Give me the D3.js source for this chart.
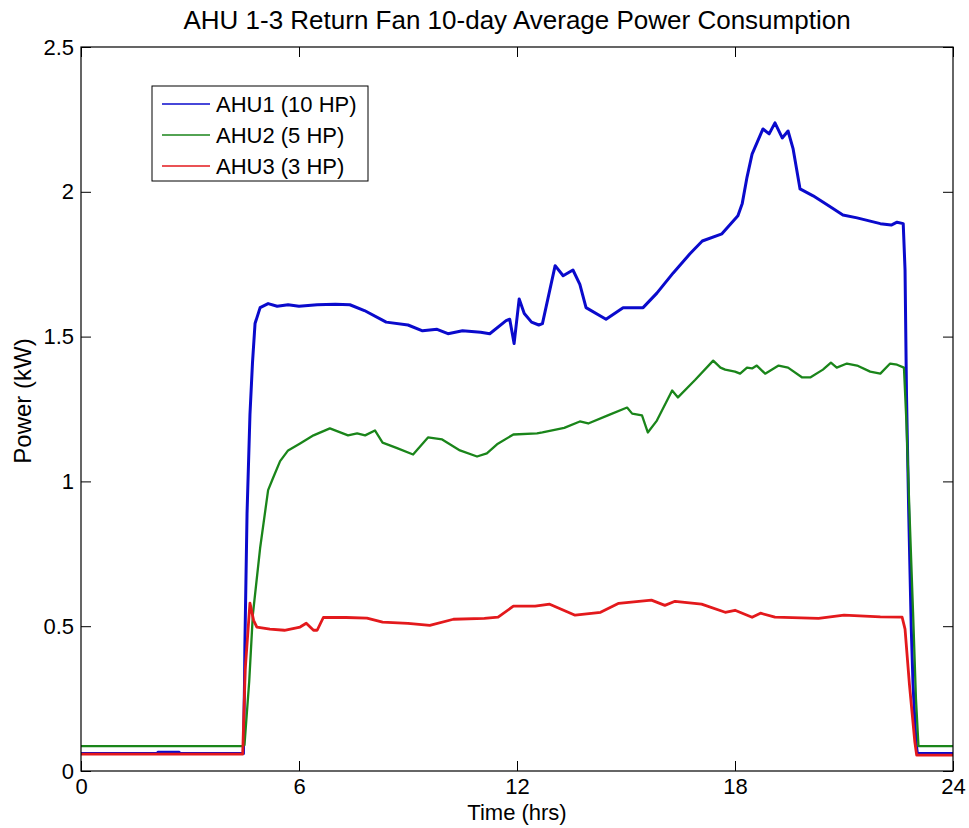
<!DOCTYPE html>
<html>
<head>
<meta charset="utf-8">
<script src="https://cdn.jsdelivr.net/npm/d3@7"></script>
<style>
  body { margin: 0; background: #fff; }
  svg { display: block; font-family: "Liberation Sans", Arial, sans-serif; }
</style>
</head>
<body>
<svg id="chart" width="969" height="828"></svg>
<script>
// Data: hours since midnight and power in kW
const seriesNames = ["AHU1 (10 HP)", "AHU2 (5 HP)", "AHU3 (3 HP)"];

const ahu1Hours = [0, 2.1, 2.12, 2.7, 2.72, 4.47, 4.5, 4.51, 4.57, 4.65, 4.72, 4.79, 4.93, 5.15, 5.4, 5.7, 6.0, 6.5, 7.0, 7.4,
  7.8, 8.4, 9.0, 9.4, 9.8, 10.1, 10.5, 11.0, 11.25, 11.7, 11.8, 11.92, 12.06, 12.2, 12.4, 12.6, 12.7,
  13.05, 13.27, 13.54, 13.73, 13.9, 14.45, 14.92, 15.47, 15.85, 16.3, 16.76, 17.1, 17.64, 18.08, 18.2,
  18.33, 18.47, 18.77, 18.94, 19.1, 19.3, 19.46, 19.6, 19.79, 20.15, 20.6, 20.97, 21.36, 22.0, 22.3,
  22.46, 22.63, 22.68, 22.72, 22.78, 22.85, 22.9, 22.98, 23.02, 24];
const ahu1Kw = [0.06, 0.06, 0.065, 0.065, 0.06, 0.06, 0.3, 0.43, 0.89, 1.23, 1.41, 1.545, 1.6, 1.614, 1.605, 1.61, 1.605, 1.61, 1.612, 1.61,
  1.59, 1.55, 1.54, 1.52, 1.525, 1.51, 1.52, 1.515, 1.51, 1.555, 1.56, 1.476, 1.63, 1.58, 1.55, 1.54, 1.545,
  1.745, 1.71, 1.73, 1.68, 1.6, 1.56, 1.6, 1.6, 1.65, 1.72, 1.786, 1.83, 1.855, 1.917, 1.96,
  2.05, 2.13, 2.217, 2.2, 2.238, 2.186, 2.21, 2.148, 2.01, 1.986, 1.95, 1.92, 1.91, 1.89, 1.885,
  1.895, 1.89, 1.73, 1.3, 0.9, 0.5, 0.3, 0.1, 0.06, 0.06];

const ahu2Hours = [0, 4.45, 4.5, 4.63, 4.73, 4.93, 5.15, 5.28, 5.48, 5.7, 6.03, 6.4, 6.85, 7.35, 7.6, 7.82,
  8.09, 8.3, 8.7, 9.14, 9.55, 9.94, 10.43, 10.9, 11.17, 11.45, 11.9, 12.55, 12.7, 13.3, 13.73, 13.96,
  14.5, 15.03, 15.17, 15.44, 15.6, 15.85, 16.27, 16.43, 16.9, 17.4, 17.6, 17.73, 18.0, 18.14, 18.33,
  18.47, 18.6, 18.83, 19.2, 19.46, 19.85, 20.07, 20.42, 20.64, 20.8, 21.08, 21.36, 21.72, 22.0, 22.27,
  22.46, 22.65, 22.72, 22.8, 22.9, 22.98, 23.05, 24];
const ahu2Kw = [0.086, 0.086, 0.09, 0.31, 0.54, 0.77, 0.97, 1.01, 1.07, 1.107, 1.131, 1.159, 1.183, 1.159, 1.166, 1.159,
  1.176, 1.134, 1.115, 1.093, 1.152, 1.145, 1.107, 1.086, 1.097, 1.128, 1.162, 1.166, 1.169, 1.185, 1.207, 1.2,
  1.228, 1.255, 1.234, 1.228, 1.169, 1.21, 1.314, 1.29, 1.35, 1.417, 1.393, 1.386, 1.379, 1.372, 1.393,
  1.39, 1.4, 1.372, 1.4, 1.393, 1.359, 1.359, 1.386, 1.41, 1.393, 1.407, 1.4, 1.379, 1.372, 1.407,
  1.403, 1.393, 1.2, 0.9, 0.55, 0.25, 0.086, 0.086];

const ahu3Hours = [0, 4.45, 4.52, 4.65, 4.75, 4.84, 5.2, 5.6, 6.03, 6.2, 6.4, 6.5, 6.67, 7.3, 7.87, 8.3,
  9.0, 9.6, 10.25, 11.1, 11.48, 11.9, 12.5, 12.9, 13.6, 14.3, 14.8, 15.7, 16.07, 16.35, 17.08, 17.73,
  18.0, 18.47, 18.7, 19.1, 20.3, 21.0, 22.0, 22.6, 22.68, 22.8, 22.95, 23.0, 24];
const ahu3Kw = [0.058, 0.058, 0.35, 0.58, 0.52, 0.497, 0.49, 0.486, 0.497, 0.51, 0.486, 0.486, 0.53, 0.53, 0.528, 0.514,
  0.51, 0.503, 0.524, 0.527, 0.531, 0.569, 0.569, 0.576, 0.538, 0.548, 0.579, 0.59, 0.572, 0.586, 0.576, 0.548,
  0.555, 0.531, 0.545, 0.531, 0.527, 0.538, 0.532, 0.531, 0.49, 0.3, 0.1, 0.055, 0.055];

const xTicks = [0, 6, 12, 18, 24];
const yTicks = [0, 0.5, 1, 1.5, 2, 2.5];
const colors = ["#0a0acc", "#1a851a", "#e3191c"];
const lineWidths = [3, 2.3, 2.8];

const series = [
  { name: seriesNames[0], values: d3.zip(ahu1Hours, ahu1Kw) },
  { name: seriesNames[1], values: d3.zip(ahu2Hours, ahu2Kw) },
  { name: seriesNames[2], values: d3.zip(ahu3Hours, ahu3Kw) },
];

// Plot box
const margin = { top: 47, right: 16, bottom: 57, left: 81 };
const width = 969, height = 828;
const svg = d3.select("#chart");

const x = d3.scaleLinear().domain([0, 24]).range([margin.left, width - margin.right]);
const y = d3.scaleLinear().domain([0, 2.5]).range([height - margin.bottom, margin.top]);

svg.append("rect").attr("width", width).attr("height", height).attr("fill", "#fff");

svg.append("clipPath").attr("id", "clip")
  .append("rect")
  .attr("x", margin.left).attr("y", margin.top)
  .attr("width", x(24) - x(0)).attr("height", y(0) - y(2.5));

// Lines
const line = d3.line().x((d) => x(d[0])).y((d) => y(d[1]));
svg.append("g")
  .attr("clip-path", "url(#clip)")
  .selectAll("path")
  .data(series)
  .join("path")
  .attr("fill", "none")
  .attr("stroke", (d, i) => colors[i])
  .attr("stroke-width", (d, i) => lineWidths[i])
  .attr("stroke-linejoin", "round")
  .attr("d", (d) => line(d.values));

// Axes, MATLAB style: ticks pointing inward on all four sides
const tickLen = 10;
const axisStyle = (g) => {
  g.select(".domain").remove();
  g.selectAll("line").attr("stroke", "#000");
  g.selectAll("text").attr("fill", "#000").attr("font-size", 22);
};
svg.append("g")
  .attr("transform", `translate(0,${y(0)})`)
  .call(d3.axisBottom(x).tickValues(xTicks).tickSize(-tickLen).tickPadding(7).tickFormat(d3.format("d")))
  .call(axisStyle);
svg.append("g")
  .attr("transform", `translate(0,${y(2.5)})`)
  .call(d3.axisTop(x).tickValues(xTicks).tickSize(-tickLen).tickFormat(""))
  .call(axisStyle);
svg.append("g")
  .attr("transform", `translate(${x(0)},0)`)
  .call(d3.axisLeft(y).tickValues(yTicks).tickSize(-tickLen).tickPadding(7).tickFormat((d) => String(d)))
  .call(axisStyle);
svg.append("g")
  .attr("transform", `translate(${x(24)},0)`)
  .call(d3.axisRight(y).tickValues(yTicks).tickSize(-tickLen).tickFormat(""))
  .call(axisStyle);

svg.append("rect")
  .attr("x", x(0)).attr("y", y(2.5))
  .attr("width", x(24) - x(0)).attr("height", y(0) - y(2.5))
  .attr("fill", "none").attr("stroke", "#000").attr("stroke-width", 1.2);

// Titles
svg.append("text")
  .attr("x", (x(0) + x(24)) / 2).attr("y", 29)
  .attr("text-anchor", "middle").attr("font-size", 26)
  .text("AHU 1-3 Return Fan 10-day Average Power Consumption");
svg.append("text")
  .attr("x", (x(0) + x(24)) / 2).attr("y", 820)
  .attr("text-anchor", "middle").attr("font-size", 22)
  .text("Time (hrs)");
svg.append("text")
  .attr("transform", `translate(31,${(y(0) + y(2.5)) / 2 - 8}) rotate(-90)`)
  .attr("text-anchor", "middle").attr("font-size", 24)
  .text("Power (kW)");

// Legend
const legend = svg.append("g").attr("transform", "translate(152,86)");
legend.append("rect")
  .attr("width", 216).attr("height", 95)
  .attr("fill", "#fff").attr("stroke", "#000").attr("stroke-width", 1);
const item = legend.selectAll("g.item")
  .data(series)
  .join("g")
  .attr("class", "item")
  .attr("transform", (d, i) => `translate(0,${18 + i * 31})`);
item.append("line")
  .attr("x1", 10).attr("x2", 58)
  .attr("stroke", (d, i) => colors[i]).attr("stroke-width", 1.6);
item.append("text")
  .attr("x", 64).attr("dy", "0.35em")
  .attr("font-size", 22)
  .text((d) => d.name);
</script>
</body>
</html>
